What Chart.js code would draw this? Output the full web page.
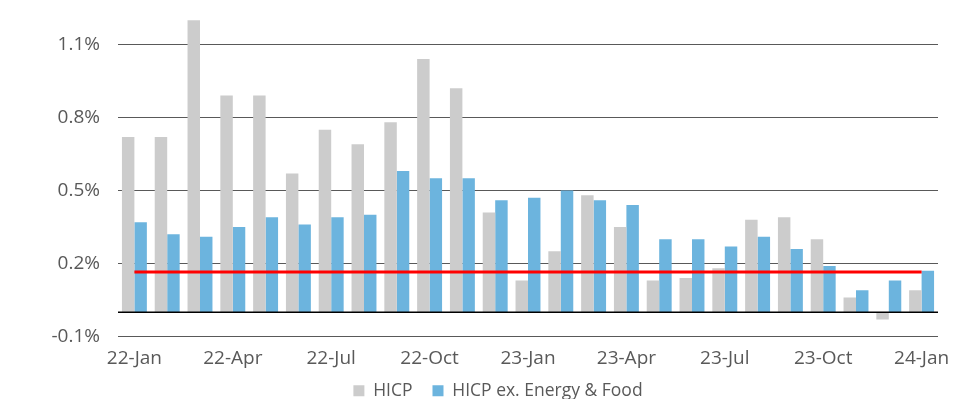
<!DOCTYPE html>
<html>
<head>
<meta charset="utf-8">
<script src="https://cdn.jsdelivr.net/npm/chart.js@4/dist/chart.umd.min.js"></script>
<style>
  html, body { margin: 0; padding: 0; background: #ffffff; }
  #wrap { width: 970px; height: 399px; position: relative; }
</style>
</head>
<body>
<div id="wrap"><canvas id="c" width="970" height="399"></canvas></div>
<script>
const categories = ['22-Jan','22-Feb','22-Mar','22-Apr','22-May','22-Jun','22-Jul','22-Aug','22-Sep','22-Oct','22-Nov','22-Dec',
                    '23-Jan','23-Feb','23-Mar','23-Apr','23-May','23-Jun','23-Jul','23-Aug','23-Sep','23-Oct','23-Nov','23-Dec','24-Jan'];
const hicp = [0.72, 0.72, 1.20, 0.89, 0.89, 0.57, 0.75, 0.69, 0.78, 1.04, 0.92, 0.41,
              0.13, 0.25, 0.48, 0.35, 0.13, 0.14, 0.18, 0.38, 0.39, 0.30, 0.06, -0.03, 0.09];
const hicpCore = [0.37, 0.32, 0.31, 0.35, 0.39, 0.36, 0.39, 0.40, 0.58, 0.55, 0.55, 0.46,
                  0.47, 0.50, 0.46, 0.44, 0.30, 0.30, 0.27, 0.31, 0.26, 0.19, 0.09, 0.13, 0.17];
const targetValue = 0.165;
const targetStart = '22-Jan';
const targetEnd = '24-Jan';
const xTickLabels = ['22-Jan','22-Apr','22-Jul','22-Oct','23-Jan','23-Apr','23-Jul','23-Oct','24-Jan'];
const yTickValues = [-0.1, 0.2, 0.5, 0.8, 1.1];
const seriesNames = ['HICP', 'HICP ex. Energy & Food'];

const textColor = '#595959';
const fontFamily = '"Open Sans", "DejaVu Sans", sans-serif';

const zeroLinePlugin = {
  id: 'zeroLine',
  afterDatasetsDraw(chart) {
    const y = chart.scales.y.getPixelForValue(0);
    const {left, right} = chart.chartArea;
    const ctx = chart.ctx;
    ctx.save();
    ctx.strokeStyle = '#000000';
    ctx.lineWidth = 1.5;
    ctx.beginPath();
    ctx.moveTo(left, Math.round(y) + 0.25);
    ctx.lineTo(right, Math.round(y) + 0.25);
    ctx.stroke();
    ctx.restore();
  }
};

new Chart(document.getElementById('c'), {
  type: 'bar',
  data: {
    labels: categories,
    datasets: [
      {
        type: 'line',
        label: 'target',
        data: [{x: targetStart, y: targetValue}, {x: targetEnd, y: targetValue}],
        borderColor: '#ff0000',
        borderWidth: 3,
        pointRadius: 0,
        fill: false,
        order: 0
      },
      {
        label: seriesNames[0],
        data: hicp,
        backgroundColor: '#cccccc',
        borderWidth: 0,
        categoryPercentage: 0.76,
        barPercentage: 1.0,
        order: 1
      },
      {
        label: seriesNames[1],
        data: hicpCore,
        backgroundColor: '#6cb4de',
        borderWidth: 0,
        categoryPercentage: 0.76,
        barPercentage: 1.0,
        order: 1
      }
    ]
  },
  options: {
    responsive: false,
    animation: false,
    layout: { padding: { top: 8, right: 32, bottom: -10.5, left: 58 } },
    plugins: {
      tooltip: { enabled: false },
      legend: {
        position: 'bottom',
        labels: {
          filter: (item) => item.text !== 'target',
          boxWidth: 11,
          boxHeight: 11,
          padding: 20,
          color: textColor,
          font: { family: fontFamily, size: 17.5 }
        }
      }
    },
    scales: {
      x: {
        grid: { display: false, drawTicks: false },
        border: { display: false },
        ticks: {
          autoSkip: false,
          maxRotation: 0,
          padding: 11,
          color: textColor,
          font: { family: fontFamily, size: 19 },
          callback: function(value, index) {
            const lab = this.getLabelForValue(value);
            return xTickLabels.includes(lab) ? lab : '';
          }
        },
        afterFit(scale) {
          scale.height = 25.5;
          scale.paddingLeft = 0;
          scale.paddingRight = 0;
          scale._computeLabelArea = () => undefined;
        }
      },
      y: {
        min: -0.1,
        max: 1.25,
        grid: { color: '#595959', lineWidth: 1, drawTicks: false },
        border: { display: false },
        ticks: {
          padding: 18,
          color: textColor,
          font: { family: fontFamily, size: 19 },
          callback: (v) => v.toFixed(1) + '%'
        },
        afterBuildTicks(scale) { scale.ticks = yTickValues.map(v => ({ value: v })); },
        afterFit(scale) {
          scale.width = 60;
          scale.paddingTop = 0;
          scale.paddingBottom = 0;
          scale._computeLabelArea = () => undefined;
        }
      }
    }
  },
  plugins: [zeroLinePlugin]
});
</script>
</body>
</html>
